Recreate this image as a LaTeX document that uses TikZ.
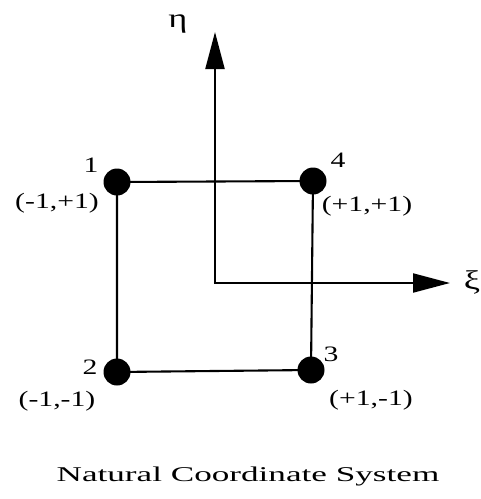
\documentclass[tikz,border=0pt]{standalone}
\usepackage{fontspec}
\setmainfont{Liberation Serif}
\newfontfamily\widefont[FakeStretch=1.35]{Liberation Serif}
\usetikzlibrary{arrows.meta}
\begin{document}
\begin{tikzpicture}[x=1pt,y=-1pt,
  dot/.style={circle,fill=black,inner sep=0pt,minimum size=27pt},
  edge/.style={line width=2.1pt},
  axis/.style={line width=2.1pt,-{Triangle[length=37pt,width=19pt]}},
  lbl/.style={inner sep=0pt,font=\widefont\fontsize{22}{24}\selectfont},
  greek/.style={inner sep=0pt,font=\widefont\fontsize{27}{29}\selectfont},
  captiontext/.style={inner sep=0pt,font=\widefont\fontsize{21}{24}\selectfont}]
\useasboundingbox (0,0) rectangle (481,499);
\node[dot] (n1) at (117,182) {};
\node[dot] (n4) at (313,181) {};
\node[dot] (n2) at (117,372) {};
\node[dot] (n3) at (311,370) {};
\draw[edge] (n1.center) -- (n4.center) -- (n3.center) -- (n2.center) -- cycle;
\coordinate (O) at (215,283);
\coordinate (etatip) at (215,32);
\coordinate (xitip) at (450,283);
\draw[axis] (O) -- (etatip);
\draw[axis] ([xshift=-1.05pt]O) -- (xitip);
\node[greek] (eta) at (178,24) {η};
\node[greek] (xi) at (472,282) {ξ};
\node[lbl] (l1) at (91,165) {1};
\node[lbl] (c1) at (57,203) {(-1,+1)};
\node[lbl] (l4) at (338,160) {4};
\node[lbl] (c4) at (367,206) {(+1,+1)};
\node[lbl] (l2) at (90,367) {2};
\node[lbl] (c2) at (57,401) {(-1,-1)};
\node[lbl] (l3) at (331,354) {3};
\node[lbl] (c3) at (371,400) {(+1,-1)};
\node[captiontext] (title) at (248,476) {\scalebox{1.24}[1]{Natural Coordinate System}};
\end{tikzpicture}
\end{document}
